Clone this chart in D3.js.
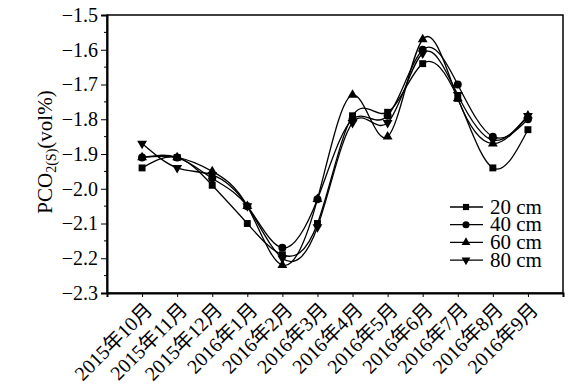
<!DOCTYPE html>
<html>
<head>
<meta charset="utf-8">
<script src="https://cdn.jsdelivr.net/npm/d3@7"></script>
<style>
  body { margin: 0; background: #fff; }
  text { font-family: "Liberation Serif", "Times New Roman", "Noto Sans CJK SC", serif; fill: #000; }
</style>
</head>
<body>
<script>
// months on the x axis
const months = ["2015年10月", "2015年11月", "2015年12月", "2016年1月", "2016年2月", "2016年3月",
  "2016年4月", "2016年5月", "2016年6月", "2016年7月", "2016年8月", "2016年9月"];
// PCO2(s) values per depth
const depth20 = [-1.94, -1.91, -1.99, -2.10, -2.19, -2.10, -1.79, -1.78, -1.64, -1.74, -1.94, -1.83];
const depth40 = [-1.91, -1.91, -1.97, -2.05, -2.17, -2.03, -1.80, -1.79, -1.60, -1.70, -1.85, -1.80];
const depth60 = [-1.91, -1.91, -1.95, -2.05, -2.22, -2.03, -1.73, -1.85, -1.57, -1.74, -1.87, -1.79];
const depth80 = [-1.87, -1.94, -1.96, -2.05, -2.20, -2.11, -1.81, -1.81, -1.61, -1.73, -1.86, -1.79];
const seriesNames = ["20 cm", "40 cm", "60 cm", "80 cm"];
const yTicks = [-2.3, -2.2, -2.1, -2.0, -1.9, -1.8, -1.7, -1.6, -1.5];

const W = 570, H = 387;
const svg = d3.select("body").append("svg").attr("width", W).attr("height", H);

const x = d3.scaleLinear().domain([-1, 12]).range([107, 563]);
const y = d3.scaleLinear().domain([-2.3, -1.5]).range([293, 15]);

const series = [
  { name: seriesNames[0], values: depth20, sym: d3.symbolSquare, size: 48 },
  { name: seriesNames[1], values: depth40, sym: d3.symbolCircle, size: 50 },
  { name: seriesNames[2], values: depth60, sym: d3.symbolTriangle, size: 42, rot: 0 },
  { name: seriesNames[3], values: depth80, sym: d3.symbolTriangle, size: 42, rot: 180 }
];

// frame
svg.append("rect").attr("x", 107).attr("y", 15).attr("width", 456).attr("height", 278)
  .attr("fill", "none").attr("stroke", "#000").attr("stroke-width", 1.5);

// y axis: major + minor ticks
const yMinor = d3.range(-2.25, -1.5, 0.1);
svg.append("g").selectAll("line").data(yMinor).join("line")
  .attr("x1", 104).attr("x2", 107).attr("y1", d => y(d)).attr("y2", d => y(d))
  .attr("stroke", "#000").attr("stroke-width", 1);
const yAxis = svg.append("g").attr("transform", "translate(107,0)")
  .call(d3.axisLeft(y).tickValues(yTicks).tickSize(6).tickPadding(3)
    .tickFormat(d => d3.format(".1f")(d).replace("-", "\u2212")));
yAxis.select(".domain").attr("stroke-width", 2);
yAxis.selectAll("text").attr("font-size", 20).style("font-family", "Liberation Serif");

// x axis
const xAxis = svg.append("g").attr("transform", "translate(0,293)")
  .call(d3.axisBottom(x).tickValues(d3.range(12)).tickSize(4).tickFormat(""));
xAxis.select(".domain").attr("stroke-width", 2);
xAxis.selectAll(".tick")
  .append("text")
  .attr("transform", "translate(11,18) rotate(-45)")
  .attr("text-anchor", "end")
  .attr("font-size", 20)
  .style("font-family", "'Liberation Serif', 'Noto Sans CJK SC'")
  .text(d => months[d]);

// lines
const line = d3.line().x((d, i) => x(i)).y(d => y(d)).curve(d3.curveNatural);
series.forEach(s => {
  svg.append("path").datum(s.values).attr("d", line)
    .attr("fill", "none").attr("stroke", "#000").attr("stroke-width", 1.3);
  svg.append("g").selectAll("path").data(s.values).join("path")
    .attr("d", d3.symbol(s.sym, s.size))
    .attr("transform", (d, i) => `translate(${x(i)},${y(d)}) rotate(${s.rot || 0})`)
    .attr("fill", "#000");
});

// legend
const legend = svg.append("g");
series.forEach((s, i) => {
  const ly = 207 + i * 17.7;
  legend.append("line").attr("x1", 450).attr("x2", 483).attr("y1", ly).attr("y2", ly)
    .attr("stroke", "#000").attr("stroke-width", 1.3);
  legend.append("path").attr("d", d3.symbol(s.sym, s.size * 0.8))
    .attr("transform", `translate(466,${ly}) rotate(${s.rot || 0})`);
  legend.append("text").attr("x", 490).attr("y", ly + 6.5).attr("font-size", 21).text(s.name);
});

// y axis title with subscript
const title = svg.append("text")
  .attr("transform", "translate(52,152) rotate(-90)")
  .attr("text-anchor", "middle").attr("font-size", 21);
title.append("tspan").text("PCO");
title.append("tspan").attr("font-size", 14).attr("dy", 4).text("2(S)");
title.append("tspan").attr("dy", -4).text("(vol%)");
</script>
</body>
</html>
